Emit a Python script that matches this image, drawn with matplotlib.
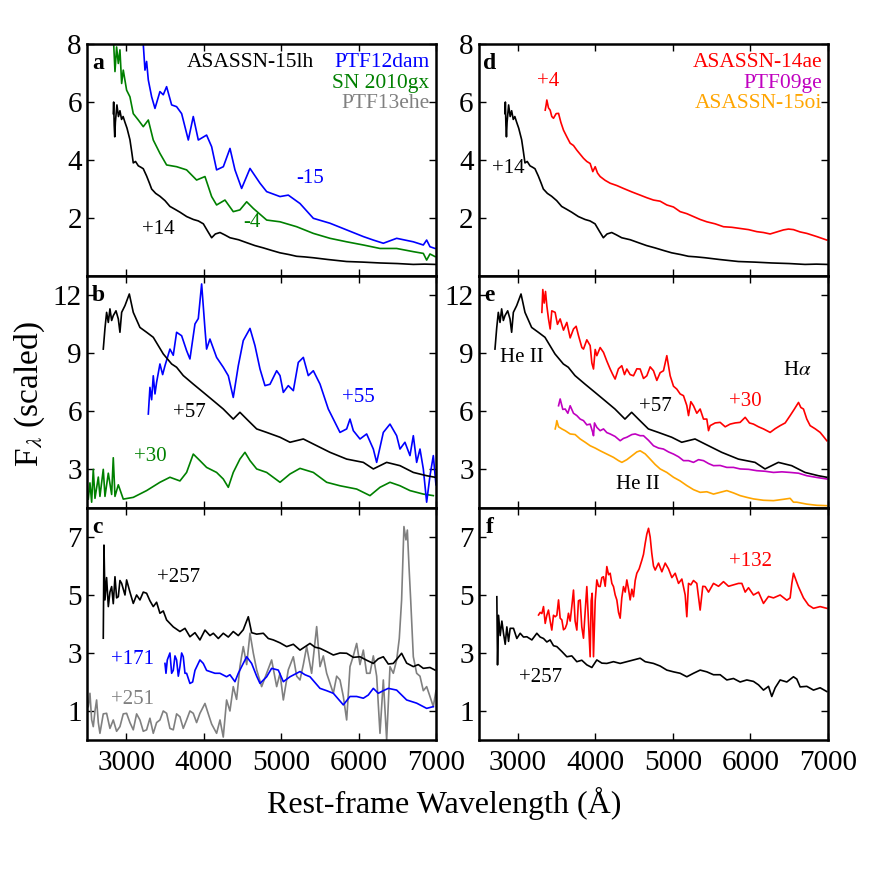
import matplotlib
matplotlib.use("Agg")
import matplotlib.pyplot as plt

plt.rcParams['font.family'] = ['Liberation Serif', 'DejaVu Serif']
plt.rcParams['mathtext.fontset'] = 'stix'

# ASASSN-15lh +14 (panels a, d)
w_15lh_14 = [2833, 2838, 2845, 2852, 2860, 2880, 2900, 2919, 2940, 2960, 2984, 3010, 3048, 3070, 3091, 3120,
             3156, 3190, 3220, 3263, 3300, 3328, 3380, 3435, 3500, 3564, 3630, 3694, 3780, 3866,
             3930, 3995, 4050, 4102, 4150, 4210, 4270, 4339, 4450, 4554, 4660, 4769, 4880, 4984,
             5100, 5199, 5300, 5414, 5600, 5844, 6050, 6274, 6500, 6704, 6850, 6990]
f_15lh_14 = [5.6, 6.0, 5.2, 4.8, 5.3, 5.9, 5.5, 5.7, 5.4, 5.5, 5.3, 5.1, 4.7, 4.3, 3.9, 3.95,
             3.8, 3.75, 3.7, 3.45, 3.2, 3.0, 2.85, 2.75, 2.6, 2.4, 2.3, 2.2, 2.05, 1.95,
             1.9, 1.8, 1.55, 1.32, 1.45, 1.5, 1.42, 1.32, 1.25, 1.15, 1.05, 0.97, 0.88, 0.8,
             0.74, 0.68, 0.66, 0.63, 0.57, 0.5, 0.48, 0.45, 0.43, 0.4, 0.41, 0.4]

# PTF12dam -15
w_12dam_m15 = [3210, 3242, 3263, 3285, 3328, 3371, 3435, 3478, 3521, 3586, 3650, 3715, 3801, 3865,
               3930, 4037, 4102, 4166, 4253, 4339, 4403, 4489, 4597, 4726, 4812, 4984, 5091, 5242,
               5414, 5629, 5844, 6059, 6188, 6317, 6489, 6704, 6833, 6876, 6919, 6984]
f_12dam_m15 = [8.4, 7.1, 7.4, 6.76, 6.18, 5.78, 6.36, 6.25, 6.53, 5.9, 5.84, 5.6, 4.69, 5.5,
               4.69, 4.86, 4.46, 3.66, 3.77, 4.4, 3.66, 3.02, 3.71, 3.2, 2.91, 2.74, 2.79, 2.5,
               1.99, 1.82, 1.59, 1.36, 1.24, 1.13, 1.3, 1.18, 1.07, 1.24, 1.01, 0.95]

# SN 2010gx -4
w_10gx_m4 = [2833, 2855, 2876, 2898, 2919, 2941, 2962, 3005, 3048, 3091, 3156, 3220, 3285, 3349,
             3435, 3521, 3650, 3779, 3908, 4016, 4102, 4166, 4274, 4381, 4467, 4554, 4640, 4812,
             4984, 5199, 5414, 5629, 5844, 6059, 6274, 6489, 6704, 6833, 6876, 6919, 6984]
f_10gx_m4 = [8.3, 7.05, 7.9, 7.33, 7.8, 6.64, 7.1, 6.41, 6.18, 5.6, 5.38, 5.15, 5.38, 4.69,
             4.23, 3.83, 3.77, 3.66, 3.31, 3.43, 2.74, 2.45, 2.62, 2.22, 2.28, 2.56, 2.33, 1.93,
             1.87, 1.7, 1.47, 1.3, 1.18, 1.07, 0.95, 0.95, 0.84, 0.78, 0.55, 0.76, 0.67]

# ASASSN-15lh +57 (panels b, e)
w_15lh_57 = [2704, 2726, 2747, 2769, 2790, 2812, 2833, 2868, 2898, 2919, 2941, 2984, 3040, 3091,
             3177, 3263, 3349, 3478, 3586, 3650, 3736, 3865, 3995, 4124, 4252, 4381, 4467, 4554,
             4683, 4812, 4984, 5113, 5285, 5414, 5629, 5844, 6059, 6188, 6360, 6532, 6704, 6876, 6984]
f_15lh_57 = [9.22, 10.3, 11.12, 10.6, 11.3, 10.7, 10.95, 11.2, 10.78, 10.09, 11.12, 11.47, 12.07, 11.12,
             10.34, 10.09, 9.83, 8.97, 8.45, 8.28, 7.85, 7.41, 6.98, 6.55, 6.12, 5.6, 5.95, 5.6,
             5.09, 4.91, 4.66, 4.4, 4.57, 4.31, 3.88, 3.53, 3.36, 3.02, 3.36, 3.19, 2.84, 2.67, 2.59]

# PTF12dam +55
w_12dam_55 = [3285, 3306, 3328, 3349, 3371, 3392, 3435, 3470, 3500, 3564, 3607, 3650, 3715, 3779,
              3822, 3887, 3930, 3973, 4016, 4037, 4080, 4166, 4252, 4317, 4381, 4446, 4510, 4597,
              4661, 4726, 4790, 4855, 4941, 4984, 5027, 5091, 5156, 5220, 5285, 5349, 5414, 5500,
              5607, 5672, 5758, 5844, 5887, 5930, 6016, 6102, 6188, 6231, 6317, 6403, 6489, 6532,
              6596, 6661, 6704, 6747, 6790, 6833, 6876, 6919, 6962, 6996]
f_12dam_55 = [5.86, 7.24, 6.6, 7.84, 6.9, 7.5, 8.45, 7.9, 8.36, 9.22, 8.9, 10.09, 9.91, 9.14,
              8.71, 10.52, 10.8, 12.59, 10.26, 9.22, 9.74, 8.79, 8.28, 7.84, 6.72, 8.36, 9.66, 10.29,
              9.4, 8.19, 7.33, 7.4, 8.1, 7.85, 6.98, 7.33, 7.07, 8.53, 8.79, 7.85, 8.1, 7.41,
              6.12, 5.6, 4.91, 5.09, 5.6, 5.0, 4.57, 4.83, 4.05, 3.36, 4.91, 5.34, 4.74, 4.05,
              4.4, 3.71, 4.74, 3.36, 4.05, 3.02, 1.3, 2.67, 3.71, 2.2]

# SN 2010gx +30
w_10gx_30 = [2511, 2532, 2554, 2575, 2597, 2640, 2661, 2704, 2726, 2769, 2812, 2833, 2855, 2898,
             2962, 3091, 3263, 3435, 3564, 3693, 3779, 3865, 3951, 4037, 4166, 4252, 4317, 4381,
             4467, 4532, 4597, 4683, 4812, 4984, 5113, 5242, 5414, 5586, 5758, 5973, 6145, 6274,
             6403, 6532, 6661, 6833, 6962]
f_10gx_30 = [1.46, 2.3, 1.3, 3.0, 1.5, 2.6, 1.6, 3.0, 1.6, 2.8, 1.7, 3.6, 1.6, 2.2,
             1.46, 1.55, 1.9, 2.33, 2.59, 2.4, 2.84, 3.79, 3.45, 3.1, 2.84, 2.5, 2.07, 2.84,
             3.53, 3.88, 3.45, 3.02, 2.84, 2.33, 2.76, 3.05, 2.84, 2.33, 2.15, 1.98, 1.64, 2.07,
             2.33, 2.15, 1.9, 1.72, 1.64]

# ASASSN-15lh +257 (panel c scaling)
w_15lh_257c = [2704, 2713, 2726, 2747, 2769, 2790, 2812, 2833, 2855, 2876, 2898, 2919, 2941, 2984,
               3005, 3048, 3091, 3134, 3177, 3220, 3263, 3306, 3349, 3392, 3435, 3478, 3521, 3607,
               3693, 3758, 3822, 3887, 3951, 4016, 4080, 4124, 4188, 4252, 4317, 4381, 4446, 4510,
               4575, 4618, 4683, 4769, 4833, 4898, 4984, 5070, 5156, 5242, 5371, 5435, 5500, 5586,
               5672, 5758, 5844, 5930, 6016, 6102, 6188, 6252, 6317, 6381, 6446, 6553, 6618, 6704,
               6768, 6833, 6919, 6984]
f_15lh_257c = [3.51, 6.72, 4.83, 5.6, 4.6, 5.1, 5.29, 4.7, 5.63, 4.9, 4.94, 5.5, 5.4, 5.0,
               5.52, 5.1, 4.71, 5.0, 4.83, 5.1, 5.06, 4.8, 4.6, 4.75, 4.37, 4.45, 4.14, 3.9,
               3.74, 3.85, 3.56, 3.7, 3.45, 3.79, 3.6, 3.68, 3.5, 3.68, 3.55, 3.74, 3.6, 3.8,
               4.25, 3.7, 3.65, 3.68, 3.5, 3.45, 3.35, 3.22, 3.3, 3.1, 3.33, 3.2, 3.16, 3.05,
               2.93, 3.0, 2.99, 2.85, 2.87, 2.75, 2.64, 2.8, 2.87, 2.62, 2.64, 2.99, 2.65, 2.53,
               2.6, 2.47, 2.5, 2.41]

# PTF13ehe +251
w_13ehe_251 = [2511, 2532, 2554, 2575, 2597, 2618, 2640, 2661, 2704, 2747, 2790, 2833, 2876, 2919,
               2962, 3005, 3048, 3091, 3134, 3177, 3220, 3263, 3306, 3349, 3392, 3435, 3478, 3521,
               3564, 3607, 3650, 3693, 3736, 3779, 3822, 3865, 3908, 3951, 4016, 4059, 4102, 4166,
               4210, 4252, 4295, 4338, 4381, 4424, 4467, 4510, 4554, 4597, 4640, 4683, 4747, 4812,
               4876, 4941, 4984, 5027, 5091, 5156, 5199, 5242, 5285, 5328, 5392, 5457, 5500, 5543,
               5586, 5672, 5715, 5758, 5801, 5844, 5887, 5930, 5973, 6016, 6059, 6102, 6145, 6188,
               6231, 6274, 6317, 6360, 6403, 6446, 6489, 6523, 6553, 6583, 6609, 6627, 6648, 6670,
               6704, 6747, 6790, 6833, 6876, 6919, 6962, 6996]
f_13ehe_251 = [1.15, 1.61, 0.7, 0.46, 1.0, 1.38, 0.6, 0.23, 0.9, 0.92, 0.4, 0.69, 0.3, 0.46,
               0.9, 0.92, 0.6, 0.35, 0.9, 0.69, 0.3, 0.35, 0.75, 0.23, 0.6, 0.69, 1.0, 0.92,
               0.4, 0.35, 0.9, 0.8, 0.4, 0.69, 1.0, 0.92, 0.6, 0.92, 1.26, 0.9, 0.55, 0.23,
               0.69, 0.1, 1.38, 1.0, 1.84, 1.4, 2.53, 3.22, 2.6, 3.68, 2.99, 2.42, 1.84, 2.3,
               2.76, 1.84, 2.3, 1.38, 2.42, 2.87, 2.2, 2.07, 2.6, 3.22, 2.3, 3.91, 2.53, 2.9,
               2.3, 1.61, 2.2, 2.07, 1.5, 0.69, 2.53, 2.9, 3.33, 2.6, 3.1, 2.3, 2.3, 2.9,
               2.2, 0.23, 2.07, 0.0, 2.53, 2.3, 2.76, 3.5, 4.83, 7.36, 6.9, 7.24, 6.0, 4.83,
               2.87, 2.3, 2.2, 1.7, 1.84, 1.5, 1.15, 1.7]

# PTF12dam +171
w_12dam_171 = [3500, 3513, 3530, 3564, 3586, 3607, 3629, 3650, 3672, 3693, 3715, 3736, 3758, 3779,
               3822, 3857, 3887, 3951, 3994, 4037, 4080, 4145, 4209, 4295, 4338, 4403, 4446, 4489,
               4554, 4618, 4683, 4726, 4812, 4876, 4962, 5027, 5113, 5242, 5306, 5371, 5500, 5586,
               5672, 5801, 5887, 5973, 6059, 6123, 6188, 6252, 6317, 6381, 6489, 6618, 6747, 6876, 6962]
f_12dam_171 = [2.64, 2.3, 2.76, 3.0, 2.3, 2.4, 2.9, 2.76, 2.2, 2.53, 3.0, 2.87, 2.3, 2.3,
               1.95, 2.0, 2.4, 2.76, 2.64, 2.4, 2.36, 2.3, 2.3, 2.18, 2.25, 2.01, 2.3, 2.53,
               2.87, 2.64, 2.2, 1.95, 2.18, 2.47, 2.41, 2.01, 2.18, 2.36, 2.25, 2.18, 1.78, 1.7,
               1.61, 1.21, 1.5, 1.5, 1.44, 1.55, 1.78, 1.61, 1.7, 1.78, 1.72, 1.38, 1.27, 1.09, 1.15]

# ASASSN-14ae +4
w_14ae_4 = [3352, 3364, 3373, 3394, 3416, 3437, 3459, 3493, 3524, 3554, 3588, 3631, 3674, 3717,
            3760, 3803, 3846, 3889, 3932, 3966, 3997, 4027, 4061, 4125, 4190, 4276, 4362, 4470,
            4577, 4663, 4749, 4835, 4921, 5007, 5093, 5179, 5265, 5351, 5437, 5544, 5652, 5760,
            5867, 5975, 6082, 6168, 6254, 6340, 6426, 6491, 6555, 6641, 6727, 6856, 6985]
f_14ae_4 = [5.72, 5.9, 6.07, 5.8, 5.72, 5.5, 5.44, 5.6, 5.61, 5.3, 5.03, 4.8, 4.58, 4.5,
            4.34, 4.2, 4.06, 3.95, 3.88, 3.6, 3.77, 3.55, 3.43, 3.3, 3.2, 3.12, 3.02, 2.9,
            2.79, 2.7, 2.62, 2.58, 2.45, 2.38, 2.22, 2.15, 2.05, 1.95, 1.87, 1.8, 1.7, 1.68,
            1.64, 1.6, 1.53, 1.5, 1.45, 1.52, 1.59, 1.62, 1.6, 1.52, 1.47, 1.36, 1.24]

# ASASSN-14ae +30
w_14ae_30 = [3309, 3321, 3339, 3356, 3373, 3394, 3416, 3437, 3480, 3510, 3545, 3588, 3631, 3674,
             3717, 3751, 3782, 3825, 3846, 3889, 3932, 3954, 3975, 3997, 4018, 4061, 4104, 4147,
             4190, 4224, 4254, 4297, 4340, 4375, 4405, 4448, 4491, 4534, 4577, 4620, 4663, 4706,
             4749, 4792, 4835, 4878, 4921, 4964, 5007, 5050, 5093, 5136, 5179, 5201, 5231, 5265,
             5308, 5351, 5394, 5437, 5459, 5480, 5545, 5609, 5674, 5738, 5803, 5867, 5932, 5987,
             6039, 6104, 6168, 6254, 6318, 6383, 6448, 6512, 6564, 6620, 6650, 6684, 6727, 6770,
             6834, 6899, 6942, 6985]
f_14ae_30 = [11.12, 12.3, 11.6, 12.2, 11.46, 10.8, 10.26, 11.2, 11.12, 10.5, 10.78, 10.2, 10.6, 9.8,
             10.26, 10.4, 9.91, 9.3, 9.22, 9.7, 9.4, 8.5, 8.19, 9.2, 8.88, 9.3, 9.05, 8.6,
             8.19, 7.9, 7.67, 8.2, 8.36, 7.9, 8.19, 7.9, 7.84, 8.2, 8.19, 7.7, 7.84, 8.3,
             8.1, 7.6, 8.0, 8.1, 8.88, 7.84, 7.3, 7.15, 6.9, 6.81, 6.3, 5.78, 6.5, 6.29,
             5.9, 6.12, 5.6, 5.6, 5.0, 5.26, 5.4, 5.43, 5.2, 5.34, 5.4, 5.43, 5.69, 5.4,
             5.34, 5.2, 5.09, 4.91, 5.1, 5.26, 5.4, 5.78, 6.1, 6.46, 6.2, 6.12, 5.6, 5.26,
             5.1, 4.91, 4.7, 4.48]

# PTF09ge
w_09ge = [3524, 3545, 3579, 3610, 3644, 3674, 3717, 3760, 3803, 3846, 3889, 3932, 3966, 3975,
          3988, 4018, 4061, 4104, 4147, 4190, 4254, 4319, 4362, 4405, 4470, 4513, 4577, 4620,
          4685, 4749, 4814, 4878, 4943, 5007, 5072, 5136, 5201, 5265, 5330, 5394, 5459, 5523,
          5609, 5695, 5781, 5867, 5975, 6082, 6190, 6297, 6405, 6512, 6620, 6727, 6856, 6985]
f_09ge = [6.29, 6.64, 6.1, 6.12, 5.9, 6.29, 5.9, 5.78, 5.6, 5.52, 5.3, 5.34, 4.9, 4.74,
          5.4, 5.17, 5.0, 5.09, 4.9, 4.83, 4.7, 4.48, 4.6, 4.66, 4.8, 4.83, 4.74, 4.74,
          4.5, 4.22, 4.1, 4.05, 3.9, 3.79, 3.65, 3.45, 3.45, 3.36, 3.5, 3.45, 3.3, 3.19,
          3.2, 3.1, 3.1, 3.02, 3.0, 2.93, 2.9, 2.84, 2.87, 2.84, 2.8, 2.67, 2.58, 2.5]

# ASASSN-15oi
w_15oi = [3481, 3493, 3502, 3524, 3567, 3610, 3674, 3738, 3803, 3868, 3932, 3997, 4061, 4147,
          4233, 4298, 4341, 4405, 4470, 4534, 4577, 4642, 4706, 4771, 4835, 4921, 5007, 5093,
          5179, 5265, 5351, 5437, 5523, 5609, 5695, 5781, 5867, 5953, 6039, 6168, 6297, 6426,
          6512, 6555, 6598, 6727, 6856, 6985]
f_15oi = [5.09, 5.3, 5.52, 5.2, 5.09, 5.0, 4.83, 4.8, 4.57, 4.4, 4.22, 4.1, 3.96, 3.79,
          3.62, 3.45, 3.36, 3.5, 3.7, 3.9, 3.96, 3.8, 3.53, 3.25, 3.02, 2.84, 2.59, 2.4,
          2.16, 1.95, 1.81, 1.84, 1.72, 1.81, 1.9, 1.78, 1.64, 1.55, 1.47, 1.4, 1.38, 1.45,
          1.5, 1.3, 1.3, 1.2, 1.14, 1.12]

# ASASSN-15lh +257 (panel f scaling)
w_15lh_257f = [2728, 2737, 2750, 2771, 2793, 2814, 2836, 2857, 2879, 2900, 2943, 2986, 3029, 3072,
               3115, 3180, 3244, 3287, 3330, 3373, 3416, 3459, 3502, 3567, 3631, 3695, 3760, 3824,
               3889, 3954, 4018, 4083, 4147, 4233, 4319, 4405, 4491, 4577, 4642, 4749, 4835, 4921,
               5007, 5093, 5179, 5265, 5351, 5437, 5523, 5609, 5695, 5781, 5867, 5953, 6039, 6104,
               6168, 6233, 6275, 6319, 6383, 6469, 6555, 6598, 6641, 6727, 6813, 6899, 6985]
f_15lh_257f = [4.94, 2.59, 4.3, 3.6, 4.1, 3.68, 3.3, 3.9, 3.4, 3.85, 3.85, 3.5, 3.68, 3.55,
               3.56, 3.45, 3.68, 3.55, 3.5, 3.38, 3.45, 3.25, 3.22, 3.05, 2.87, 2.9, 2.7, 2.75,
               2.59, 2.5, 2.76, 2.65, 2.64, 2.7, 2.64, 2.7, 2.76, 2.82, 2.7, 2.64, 2.55, 2.41,
               2.35, 2.3, 2.18, 2.3, 2.41, 2.35, 2.25, 2.25, 2.07, 2.12, 2.0, 2.07, 2.02, 1.9,
               1.72, 1.85, 1.5, 1.8, 2.07, 2.0, 2.18, 2.1, 1.83, 1.85, 1.72, 1.8, 1.67]

# ASASSN-14ae +132
w_14ae_132 = [3266, 3287, 3309, 3330, 3352, 3373, 3394, 3416, 3437, 3459, 3481, 3502, 3524, 3545,
              3567, 3588, 3610, 3631, 3652, 3674, 3695, 3717, 3738, 3760, 3781, 3803, 3824, 3846,
              3867, 3889, 3910, 3932, 3945, 3958, 3975, 3997, 4018, 4040, 4061, 4083, 4104, 4126,
              4147, 4169, 4190, 4212, 4233, 4255, 4276, 4298, 4319, 4340, 4362, 4384, 4405, 4427,
              4448, 4470, 4491, 4513, 4534, 4564, 4599, 4620, 4642, 4663, 4685, 4706, 4727, 4749,
              4771, 4814, 4857, 4900, 4943, 4986, 5029, 5072, 5115, 5158, 5179, 5201, 5231, 5265,
              5308, 5351, 5385, 5416, 5459, 5523, 5588, 5652, 5717, 5781, 5846, 5889, 5932, 5975,
              6039, 6104, 6168, 6233, 6297, 6383, 6469, 6512, 6534, 6555, 6589, 6620, 6684, 6749,
              6813, 6899, 6985]
f_14ae_132 = [4.31, 4.4, 4.36, 4.6, 4.02, 4.3, 4.48, 4.1, 3.79, 4.3, 4.25, 4.3, 4.83, 4.2,
              4.14, 3.8, 3.85, 4.0, 4.37, 4.1, 4.6, 5.17, 4.1, 3.79, 4.8, 4.83, 3.9, 3.51,
              4.4, 5.29, 4.1, 2.87, 4.8, 5.06, 2.87, 4.8, 5.52, 5.3, 5.29, 5.6, 5.63, 5.3,
              5.98, 5.7, 5.75, 5.4, 5.29, 5.0, 4.83, 4.4, 4.2, 4.9, 5.29, 5.1, 5.52, 5.2,
              4.83, 5.2, 4.94, 5.5, 5.75, 5.9, 6.2, 6.4, 6.78, 7.1, 7.3, 7.0, 6.44, 6.0,
              5.86, 6.1, 5.8, 6.1, 5.9, 5.6, 5.75, 5.4, 5.55, 5.0, 4.25, 5.4, 5.35, 5.5,
              5.4, 4.48, 5.3, 5.29, 5.1, 5.4, 5.3, 5.46, 5.3, 5.35, 5.4, 5.4, 5.1, 5.25,
              5.0, 5.1, 4.71, 4.95, 4.9, 5.0, 4.82, 4.9, 5.4, 5.75, 5.5, 5.28, 4.9, 4.65,
              4.54, 4.6, 4.54]

BLUE = '#0000ff'
GREEN = '#008000'
GRAY = '#808080'
RED = '#ff0000'
MAGENTA = '#c000c0'
ORANGE = '#ffa500'

fig, axes = plt.subplots(3, 2, figsize=(8.72, 8.72), dpi=100)
plt.subplots_adjust(left=0.1003, right=0.9495, top=0.9495, bottom=0.1514,
                    hspace=0, wspace=0.123)

lw = 1.2
(ax_a, ax_d), (ax_b, ax_e), (ax_c, ax_f) = axes

# panel a
ax_a.plot(w_12dam_m15, f_12dam_m15, color=BLUE, lw=lw)
ax_a.plot(w_10gx_m4, f_10gx_m4, color=GREEN, lw=lw)
ax_a.plot(w_15lh_14, f_15lh_14, color='k', lw=lw)
ax_a.text(3410, 1.6, '+14', color='k', fontsize=15, ha='center', va='center')
ax_a.text(4625, 1.85, '-4', color=GREEN, fontsize=15, ha='center', va='center')
ax_a.text(5375, 3.38, '-15', color=BLUE, fontsize=15, ha='center', va='center')

# panel b
ax_b.plot(w_10gx_30, f_10gx_30, color=GREEN, lw=lw)
ax_b.plot(w_12dam_55, f_12dam_55, color=BLUE, lw=lw)
ax_b.plot(w_15lh_57, f_15lh_57, color='k', lw=lw)
ax_b.text(3820, 5.96, '+57', color='k', fontsize=15, ha='center', va='center')
ax_b.text(6000, 6.74, '+55', color=BLUE, fontsize=15, ha='center', va='center')
ax_b.text(3306, 3.64, '+30', color=GREEN, fontsize=15, ha='center', va='center')

# panel c
ax_c.plot(w_13ehe_251, f_13ehe_251, color=GRAY, lw=lw)
ax_c.plot(w_12dam_171, f_12dam_171, color=BLUE, lw=lw)
ax_c.plot(w_15lh_257c, f_15lh_257c, color='k', lw=lw)
ax_c.text(3670, 5.6, '+257', color='k', fontsize=15, ha='center', va='center')
ax_c.text(3075, 2.76, '+171', color=BLUE, fontsize=15, ha='center', va='center')
ax_c.text(3075, 1.38, '+251', color=GRAY, fontsize=15, ha='center', va='center')

# panel d
ax_d.plot(w_14ae_4, f_14ae_4, color=RED, lw=lw)
ax_d.plot(w_15lh_14, f_15lh_14, color='k', lw=lw)
ax_d.text(3390, 6.7, '+4', color=RED, fontsize=15, ha='center', va='center')
ax_d.text(2875, 3.72, '+14', color='k', fontsize=15, ha='center', va='center')

# panel e
ax_e.plot(w_15oi, f_15oi, color=ORANGE, lw=lw)
ax_e.plot(w_09ge, f_09ge, color=MAGENTA, lw=lw)
ax_e.plot(w_14ae_30, f_14ae_30, color=RED, lw=lw)
ax_e.plot(w_15lh_57, f_15lh_57, color='k', lw=lw)
ax_e.text(3055, 8.8, 'He II', color='k', fontsize=15, ha='center', va='center')
ax_e.text(4770, 6.27, '+57', color='k', fontsize=15, ha='center', va='center')
ax_e.text(5935, 6.5, '+30', color=RED, fontsize=15, ha='center', va='center')
ax_e.text(6600, 8.1, r'H$\alpha$', color='k', fontsize=15, ha='center', va='center')
ax_e.text(4550, 2.2, 'He II', color='k', fontsize=15, ha='center', va='center')

# panel f
ax_f.plot(w_14ae_132, f_14ae_132, color=RED, lw=lw)
ax_f.plot(w_15lh_257f, f_15lh_257f, color='k', lw=lw)
ax_f.text(6000, 6.17, '+132', color=RED, fontsize=15, ha='center', va='center')
ax_f.text(3290, 2.17, '+257', color='k', fontsize=15, ha='center', va='center')

# legends as coloured text
ax_a.text(0.466, 0.922, 'ASASSN-15lh', color='k', fontsize=15.5, ha='center', va='center',
          transform=ax_a.transAxes)
ax_a.text(0.98, 0.922, 'PTF12dam', color=BLUE, fontsize=15.5, ha='right', va='center',
          transform=ax_a.transAxes)
ax_a.text(0.98, 0.832, 'SN 2010gx', color=GREEN, fontsize=15.5, ha='right', va='center',
          transform=ax_a.transAxes)
ax_a.text(0.98, 0.745, 'PTF13ehe', color=GRAY, fontsize=15.5, ha='right', va='center',
          transform=ax_a.transAxes)
ax_d.text(0.983, 0.922, 'ASASSN-14ae', color=RED, fontsize=15.5, ha='right', va='center',
          transform=ax_d.transAxes)
ax_d.text(0.983, 0.832, 'PTF09ge', color=MAGENTA, fontsize=15.5, ha='right', va='center',
          transform=ax_d.transAxes)
ax_d.text(0.983, 0.745, 'ASASSN-15oi', color=ORANGE, fontsize=15.5, ha='right', va='center',
          transform=ax_d.transAxes)

letters = {ax_a: 'a', ax_b: 'b', ax_c: 'c', ax_d: 'd', ax_e: 'e', ax_f: 'f'}
for ax, letter in letters.items():
    ax.text(0.03, 0.918, letter, fontsize=17, fontweight='bold', ha='center', va='center',
            transform=ax.transAxes)

for row, (ylim, yticks) in enumerate([((0, 8), [2, 4, 6, 8]),
                                      ((1, 13), [3, 6, 9, 12]),
                                      ((0, 8), [1, 3, 5, 7])]):
    for col in range(2):
        ax = axes[row, col]
        ax.set_xlim(2500, 7000)
        ax.set_ylim(*ylim)
        ax.set_yticks(yticks)
        ax.set_xticks([3000, 4000, 5000, 6000, 7000])
        ax.tick_params(direction='in', top=True, right=True, length=5, width=1,
                       labelsize=21, pad=4)
        ax.tick_params(axis='x', pad=7)
        for sp in ax.spines.values():
            sp.set_linewidth(1.8)
        if row < 2:
            ax.set_xticklabels([])

fig.text(0.034, 0.548, r'F$_\lambda$ (scaled)', fontsize=24, rotation=90,
         ha='center', va='center')
fig.text(0.509, 0.0677, 'Rest-frame Wavelength (Å)', fontsize=23, ha='center',
         va='baseline')

fig.savefig('out.png', dpi=100)
